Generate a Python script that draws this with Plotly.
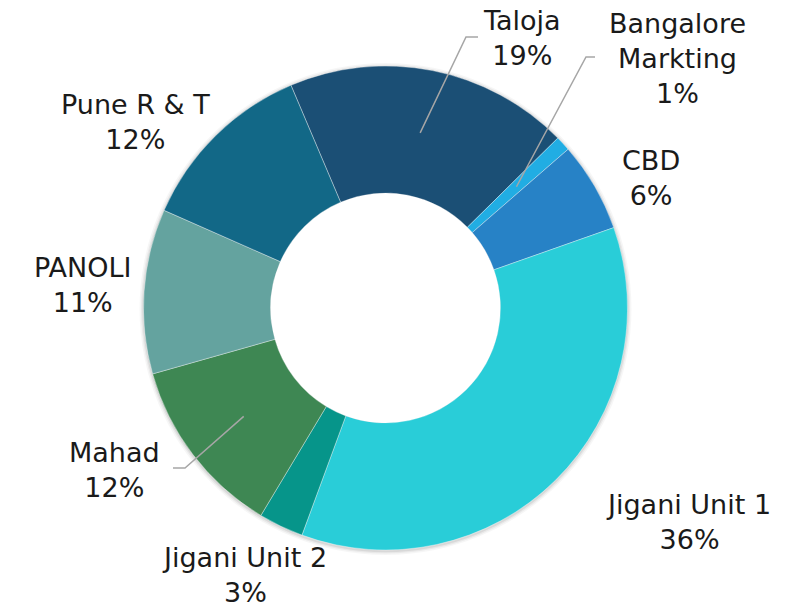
import math
import plotly.graph_objects as go

# ---- data ----
labels = ["Taloja", "Bangalore Markting", "CBD", "Jigani Unit 1",
          "Jigani Unit 2", "Mahad", "PANOLI", "Pune R & T"]
values = [19, 1, 6, 36, 3, 12, 11, 12]
colors = ["#1b4f75", "#21ade3", "#2782c6", "#29cdd8",
          "#06958a", "#3e8753", "#64a39f", "#126887"]

# ---- layout constants (pixels) ----
W, H = 800, 609
CX, CY = 385.5, 308.0      # donut centre
R_OUT = 242.0
HOLE = 0.475
ROT = -23                  # start angle of first slice (deg, clockwise from 12 o'clock)

# label block centres (pixels) and leader elbows (None = no leader)
label_pos = [(522, 38), (677, 58), (651, 178), (688, 522),
             (244, 575), (115, 470), (82, 285), (135, 122)]
leader_elbow = [((466, 37), (478, 37)), ((586, 57), (595, 57)), None, None,
                None, ((185, 468), (173, 468)), None, None]


def px2paper(x, y):
    return x / W, 1 - y / H


fig = go.Figure()
fig.add_trace(go.Pie(
    labels=labels, values=values, hole=HOLE, sort=False,
    direction="clockwise", rotation=ROT, textinfo="none",
    marker=dict(colors=colors, line=dict(color="rgba(255,255,255,0.45)", width=0.8)),
    domain=dict(x=[(CX - R_OUT) / W, (CX + R_OUT) / W],
                y=[(H - CY - R_OUT) / H, (H - CY + R_OUT) / H]),
    showlegend=False,
))

total = sum(values)
shapes = []
annotations = []


def circle(r, dy, fill):
    x0, y0 = px2paper(CX - r, CY + r + dy)
    x1, y1 = px2paper(CX + r, CY - r + dy)
    return dict(type="circle", xref="paper", yref="paper", layer="below",
                x0=x0, y0=y0, x1=x1, y1=y1, fillcolor=fill, line=dict(width=0))


# soft shadow rings behind the donut, then a white disc for the hole
for dr, op in [(4, 0.035), (2.5, 0.05), (1.2, 0.07)]:
    shapes.append(circle(R_OUT + dr, 1, "rgba(0,0,0,%s)" % op))
shapes.append(circle(R_OUT * HOLE, 0, "white"))

cum = 0.0
r_mid = R_OUT * (1 + HOLE) / 2
for i, (lab, v) in enumerate(zip(labels, values)):
    mid = ROT + 360 * (cum + v / 2) / total
    cum += v
    pct = round(100 * v / total)
    lx, ly = label_pos[i]
    x0, y0 = px2paper(lx, ly)
    if lab == "Bangalore Markting":
        txt = "Bangalore<br>Markting<br>%d%%" % pct
    else:
        txt = "%s<br>%d%%" % (lab, pct)
    annotations.append(dict(x=x0, y=y0, xref="paper", yref="paper", text=txt,
                            showarrow=False, align="center",
                            xanchor="center", yanchor="middle",
                            font=dict(family="DejaVu Sans", size=27, color="#1a1a1a")))
    if leader_elbow[i] is not None:
        a = math.radians(mid)
        sx = CX + r_mid * math.sin(a)
        sy = CY - r_mid * math.cos(a)
        (ex, ey), (fx, fy) = leader_elbow[i]
        path = "M %f %f L %f %f L %f %f" % (
            *px2paper(sx, sy), *px2paper(ex, ey), *px2paper(fx, fy))
        shapes.append(dict(type="path", xref="paper", yref="paper", path=path,
                           line=dict(color="#a6a6a6", width=1.5)))

fig.update_layout(
    width=W, height=H, margin=dict(l=0, r=0, t=0, b=0),
    paper_bgcolor="white", plot_bgcolor="white",
    shapes=shapes, annotations=annotations,
)
fig.write_html("out.html", config={"displayModeBar": False},
               post_script="document.body.style.margin='0';document.body.style.padding='0';")
